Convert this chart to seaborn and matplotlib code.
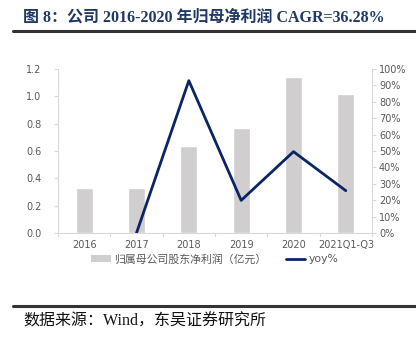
import numpy as np
import pandas as pd
import matplotlib
matplotlib.use("Agg")
import matplotlib.pyplot as plt
import seaborn as sns
from matplotlib.patches import Patch
from matplotlib.lines import Line2D

categories = ["2016", "2017", "2018", "2019", "2020", "2021Q1-Q3"]
profit = [0.33, 0.33, 0.64, 0.77, 1.14, 1.02]
yoy = [np.nan, 0.0, 92.9, 19.9, 49.6, 25.8]
left_ticks = [0.0, 0.2, 0.4, 0.6, 0.8, 1.0, 1.2]
right_ticks = [0, 10, 20, 30, 40, 50, 60, 70, 80, 90, 100]
title = "图 8：公司 2016-2020 年归母净利润 CAGR=36.28%"
source = "数据来源：Wind，东吴证券研究所"
bar_label = "归属母公司股东净利润（亿元）"
line_label = "yoy%"

sns.set_theme(style="white")
plt.rcParams['font.family'] = ['DejaVu Sans', 'Noto Sans CJK SC']

BAR = "#D0CECE"
NAVY = "#0A2464"
AXC = "#D9D9D9"
TXT = "#595959"

fig = plt.figure(figsize=(4.16, 3.39), dpi=100)
ax = fig.add_axes([58/416, 1-233/339, (372-58)/416, (233-69)/339])

df = pd.DataFrame({"cat": categories, "profit": profit})
sns.barplot(data=df, x="cat", y="profit", order=categories, color=BAR,
            width=0.32, saturation=1, ax=ax)
ax.set_xlim(-0.5, len(categories) - 0.5)
ax.set_ylim(0, 1.2)
ax.set_yticks(left_ticks)
ax.set_yticklabels([f"{v:.1f}" for v in left_ticks])
ax.set_xlabel("")
ax.set_ylabel("")

ax2 = ax.twinx()
xpos = np.arange(len(categories))
df2 = pd.DataFrame({"x": xpos, "yoy": yoy}).dropna()
sns.lineplot(data=df2, x="x", y="yoy", color=NAVY, linewidth=2.0, ax=ax2, sort=False)
ax2.set_ylim(0, 100)
ax2.set_yticks(right_ticks)
ax2.set_yticklabels([f"{v}%" for v in right_ticks])
ax2.set_xlabel("")
ax2.set_ylabel("")
ax2.set_xlim(-0.5, len(categories) - 0.5)

ax.set_xticks(xpos)
ax.set_xticklabels(categories)
ax.tick_params(axis="x", length=0, pad=5, labelsize=7, colors=TXT)
for xb in np.arange(-0.5, len(categories), 1.0):
    ax.plot([xb, xb], [0, -0.02], color=AXC, lw=0.8, clip_on=False,
            transform=ax.transData)

ax.tick_params(axis="y", direction="out", length=3, width=0.8, color=AXC,
               labelsize=7, labelcolor=TXT, pad=9, left=True)
ax2.tick_params(axis="y", direction="out", length=3, width=0.8, color=AXC,
                labelsize=7, labelcolor=TXT, pad=2, right=True)

for a in (ax, ax2):
    a.spines["top"].set_visible(False)
    for s in ["left", "right", "bottom"]:
        a.spines[s].set_color(AXC)
        a.spines[s].set_linewidth(0.8)
ax.spines["right"].set_visible(False)
ax2.spines["left"].set_visible(False)
ax2.spines["bottom"].set_visible(False)

handles = [Patch(facecolor=BAR, edgecolor="none"),
           Line2D([0], [0], color=NAVY, lw=2.0)]
fig.legend(handles, [bar_label, line_label], loc="center",
           bbox_to_anchor=(215/416, 1-259/339), ncol=2, frameon=False,
           handlelength=1.8, handleheight=0.6,
           columnspacing=1.8, handletextpad=0.3,
           labelcolor=TXT,
           prop={"family": ['DejaVu Sans', 'Noto Sans CJK SC'], "size": 7.8})

fig.text(23/416, 1-18/339, title, ha="left", va="center", fontsize=11.5,
         fontweight="bold", color="#1F3864",
         family=['Liberation Serif', 'Noto Sans CJK SC'])
fig.add_artist(Line2D([13/416, 1.0], [1-31/339, 1-31/339], color="#333333", lw=2.2))
fig.add_artist(Line2D([13/416, 1.0], [1-306/339, 1-306/339], color="#333333", lw=2.2))
fig.text(23/416, 1-322/339, source, ha="left", va="center", fontsize=11.5,
         color="#111111", family=['Liberation Serif', 'Noto Sans CJK SC'])

fig.savefig("out.png", dpi=100)
